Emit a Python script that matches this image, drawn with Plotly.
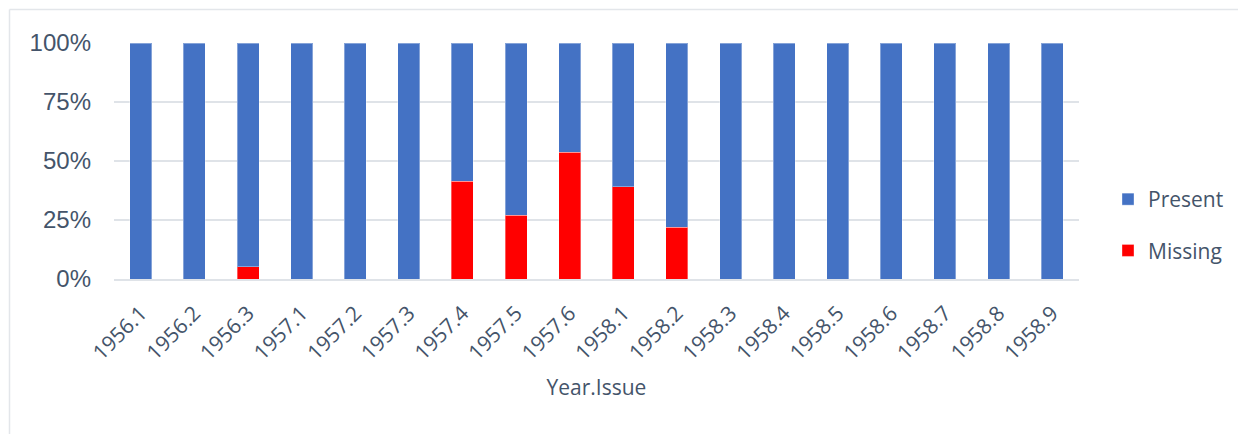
import plotly.graph_objects as go

categories = ["1956.1", "1956.2", "1956.3", "1957.1", "1957.2", "1957.3", "1957.4", "1957.5", "1957.6",
              "1958.1", "1958.2", "1958.3", "1958.4", "1958.5", "1958.6", "1958.7", "1958.8", "1958.9"]
missing = [0, 0, 0.052, 0, 0, 0, 0.414, 0.271, 0.538, 0.391, 0.22, 0, 0, 0, 0, 0, 0, 0]
present = [1 - m for m in missing]
yticks = [0, 0.25, 0.5, 0.75, 1.0]
ytick_labels = ["0%", "25%", "50%", "75%", "100%"]

TEXT = "#44546A"
GRID = "#DFE3E8"

fig = go.Figure()
fig.add_trace(go.Bar(x=categories, y=missing, name="Missing", legendrank=2, legendgroup="missing",
                     marker=dict(color="#FF0000", line=dict(color="rgba(255,255,255,0.35)", width=1))))
fig.add_trace(go.Bar(x=categories, y=present, name="Present", legendrank=1, legendgroup="present",
                     marker=dict(color="#4472C4", line=dict(color="rgba(255,255,255,0.35)", width=1))))

# the page body has an 8px default margin, so the figure starts at (8, 8)
OFF = 8
W, H = 1246 - OFF, 434 - OFF
ml, mr, mt, mb = 114 - OFF, 167, 43 - OFF, 155
pw, ph = W - ml - mr, H - mt - mb

def px_x(px):
    return (px - OFF - ml) / pw

def px_y(py):
    return (H + OFF - mb - py) / ph

bx, by = px_x(9.5), px_y(9.5)

fig.update_layout(
    width=W, height=H,
    margin=dict(l=ml, r=mr, t=mt, b=mb, autoexpand=False),
    barmode="stack", bargap=0.59,
    plot_bgcolor="white", paper_bgcolor="white",
    showlegend=True,
    legend=dict(x=px_x(1108), y=px_y(225), xanchor="left", yanchor="middle",
                traceorder="grouped", tracegroupgap=21,
                font=dict(family="Open Sans", size=21, color=TEXT),
                itemwidth=30, bgcolor="rgba(0,0,0,0)"),
    xaxis=dict(tickangle=-45, showgrid=False, zeroline=False, showline=True,
               linecolor=GRID, linewidth=1.5, ticks="", automargin=False,
               tickfont=dict(family="Open Sans", size=21, color=TEXT),
               ticklabelstandoff=12,
               title=dict(text="Year.Issue", standoff=16,
                          font=dict(family="Open Sans", size=21, color=TEXT))),
    yaxis=dict(range=[0, 1], tickvals=yticks, ticktext=ytick_labels,
               showgrid=True, gridcolor=GRID, gridwidth=1.5, zeroline=False,
               showline=False, automargin=False, ticklabelstandoff=22,
               tickfont=dict(family="Liberation Sans", size=24, color=TEXT)),
    shapes=[
        dict(type="line", xref="paper", yref="paper", x0=bx, x1=bx, y0=-1, y1=by,
             line=dict(color="#E3E6EA", width=1.5)),
        dict(type="line", xref="paper", yref="paper", x0=bx, x1=2, y0=by, y1=by,
             line=dict(color="#E3E6EA", width=1.5)),
    ],
)

fig.write_html("out.html")
